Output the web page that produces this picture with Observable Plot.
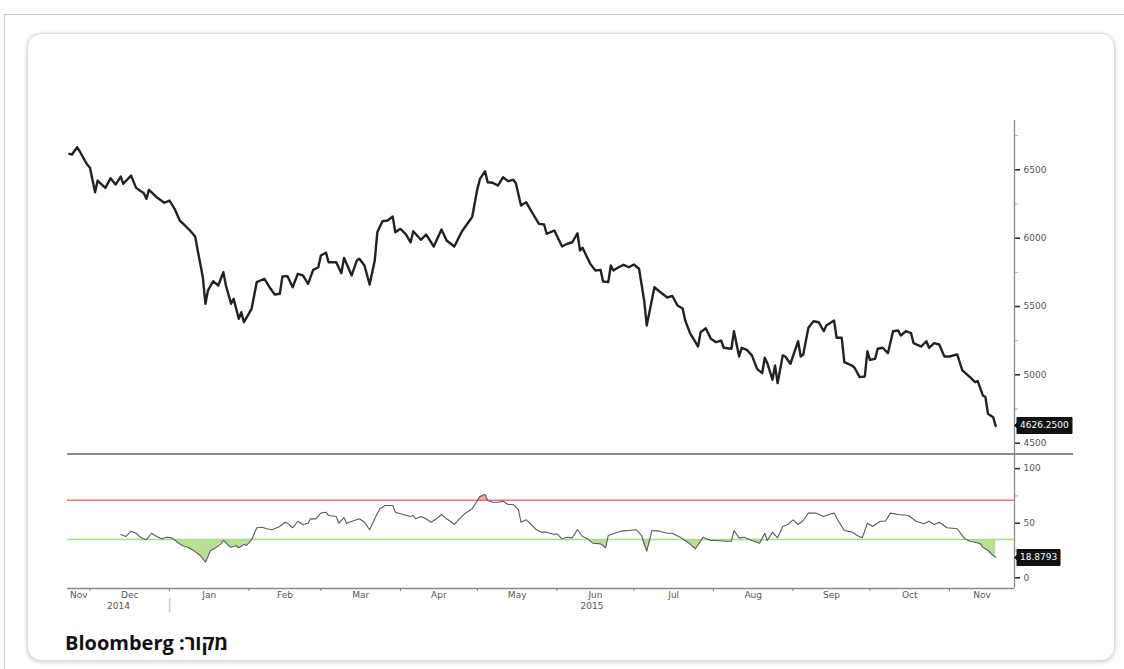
<!DOCTYPE html>
<html><head><meta charset="utf-8">
<script src="https://cdn.jsdelivr.net/npm/d3@7"></script>
<script src="https://cdn.jsdelivr.net/npm/@observablehq/plot@0.6"></script>
<style>
html,body{margin:0;padding:0;background:#fff;width:1124px;height:669px;overflow:hidden;position:relative;font-family:"DejaVu Sans",sans-serif;}
#frame{position:absolute;left:4px;top:14px;right:-2px;bottom:-2px;border-top:1px solid #c4c4c4;border-left:1px solid #cfcfcf;}
#card{position:absolute;left:27px;top:33px;width:1086px;height:626px;border:1px solid #dcdcdc;border-radius:14px;box-shadow:0 1px 4px rgba(0,0,0,0.22);background:#fff;}
#top,#bottom{position:absolute;left:0;}
#top{top:100px;}
#bottom{top:454px;}
#sep{position:absolute;left:67px;top:453px;width:1006px;height:2px;background:#8a8a8a;}
#caption{position:absolute;left:65px;top:630px;font-family:"Open Sans","DejaVu Sans",sans-serif;font-weight:700;font-size:20px;line-height:26px;direction:rtl;color:#111;}
g[aria-label="tip"] text{fill:#fff;}
</style></head><body>
<div id="frame"></div><div id="card"></div>
<div id="top"></div><div id="bottom"></div><div id="sep"></div>
<div id="caption" dir="rtl">מקור: Bloomberg</div>
<script>
const priceDates = ["2014-11-23","2014-11-24","2014-11-26","2014-11-27","2014-11-29","2014-11-30","2014-12-01","2014-12-03","2014-12-04","2014-12-05","2014-12-07","2014-12-09","2014-12-11","2014-12-13","2014-12-14","2014-12-17","2014-12-19","2014-12-22","2014-12-23","2014-12-24","2014-12-27","2014-12-30","2015-01-01","2015-01-03","2015-01-05","2015-01-07","2015-01-09","2015-01-11","2015-01-12","2015-01-14","2015-01-15","2015-01-16","2015-01-18","2015-01-20","2015-01-22","2015-01-23","2015-01-25","2015-01-26","2015-01-28","2015-01-29","2015-01-30","2015-02-02","2015-02-04","2015-02-07","2015-02-09","2015-02-11","2015-02-13","2015-02-14","2015-02-16","2015-02-18","2015-02-20","2015-02-22","2015-02-24","2015-02-26","2015-02-28","2015-03-01","2015-03-03","2015-03-04","2015-03-07","2015-03-09","2015-03-10","2015-03-13","2015-03-15","2015-03-16","2015-03-18","2015-03-20","2015-03-22","2015-03-23","2015-03-25","2015-03-27","2015-03-29","2015-03-30","2015-04-01","2015-04-03","2015-04-05","2015-04-06","2015-04-09","2015-04-11","2015-04-14","2015-04-17","2015-04-19","2015-04-22","2015-04-25","2015-04-28","2015-04-29","2015-05-01","2015-05-02","2015-05-04","2015-05-05","2015-05-07","2015-05-09","2015-05-11","2015-05-13","2015-05-15","2015-05-16","2015-05-18","2015-05-20","2015-05-23","2015-05-25","2015-05-27","2015-05-28","2015-05-31","2015-06-03","2015-06-05","2015-06-07","2015-06-09","2015-06-10","2015-06-11","2015-06-14","2015-06-16","2015-06-18","2015-06-19","2015-06-21","2015-06-22","2015-06-23","2015-06-25","2015-06-27","2015-06-29","2015-07-01","2015-07-03","2015-07-05","2015-07-06","2015-07-09","2015-07-11","2015-07-14","2015-07-16","2015-07-18","2015-07-20","2015-07-21","2015-07-23","2015-07-24","2015-07-26","2015-07-27","2015-07-29","2015-07-31","2015-08-02","2015-08-04","2015-08-05","2015-08-08","2015-08-09","2015-08-11","2015-08-12","2015-08-14","2015-08-16","2015-08-18","2015-08-20","2015-08-21","2015-08-22","2015-08-24","2015-08-25","2015-08-26","2015-08-28","2015-08-29","2015-08-31","2015-09-03","2015-09-04","2015-09-05","2015-09-07","2015-09-09","2015-09-11","2015-09-13","2015-09-14","2015-09-17","2015-09-18","2015-09-20","2015-09-21","2015-09-24","2015-09-25","2015-09-27","2015-09-29","2015-09-30","2015-10-01","2015-10-03","2015-10-04","2015-10-06","2015-10-08","2015-10-10","2015-10-12","2015-10-13","2015-10-15","2015-10-17","2015-10-18","2015-10-21","2015-10-23","2015-10-24","2015-10-26","2015-10-28","2015-10-30","2015-11-01","2015-11-04","2015-11-06","2015-11-09","2015-11-11","2015-11-12","2015-11-14","2015-11-15","2015-11-16","2015-11-18","2015-11-19"];
const priceValues = [6617,6612,6665,6636,6568,6537,6515,6336,6422,6402,6368,6438,6392,6451,6398,6458,6368,6329,6288,6354,6300,6259,6275,6215,6129,6093,6056,6012,5910,5714,5520,5617,5685,5654,5751,5654,5520,5556,5410,5458,5385,5483,5678,5703,5641,5588,5593,5719,5722,5641,5739,5727,5666,5768,5787,5873,5893,5824,5824,5744,5856,5727,5836,5849,5800,5661,5836,6043,6124,6129,6158,6043,6068,6032,5970,6051,5988,6027,5939,6063,5983,5939,6051,6129,6158,6361,6434,6490,6409,6405,6385,6446,6417,6427,6402,6239,6263,6166,6105,6100,6032,6056,5939,5959,5970,6036,5910,5929,5812,5763,5768,5683,5678,5800,5763,5787,5805,5787,5807,5776,5544,5361,5641,5610,5566,5577,5507,5485,5398,5300,5271,5207,5312,5341,5264,5239,5251,5198,5191,5319,5134,5198,5183,5142,5044,5012,5125,5085,4964,5068,4939,5142,5134,5081,5246,5134,5149,5344,5392,5385,5319,5361,5398,5271,5271,5093,5068,5052,4983,4988,5173,5110,5117,5191,5198,5158,5319,5324,5288,5319,5305,5232,5207,5246,5198,5232,5222,5134,5134,5149,5032,4983,4946,4954,4849,4837,4715,4690,4626.25];

const rsiDates = ["2014-12-13","2014-12-15","2014-12-17","2014-12-19","2014-12-21","2014-12-23","2014-12-25","2014-12-27","2014-12-29","2014-12-31","2015-01-02","2015-01-04","2015-01-06","2015-01-08","2015-01-10","2015-01-13","2015-01-15","2015-01-17","2015-01-19","2015-01-21","2015-01-22","2015-01-24","2015-01-25","2015-01-27","2015-01-28","2015-01-30","2015-01-31","2015-02-02","2015-02-04","2015-02-06","2015-02-08","2015-02-10","2015-02-13","2015-02-15","2015-02-16","2015-02-18","2015-02-20","2015-02-22","2015-02-24","2015-02-25","2015-02-27","2015-03-01","2015-03-03","2015-03-04","2015-03-07","2015-03-08","2015-03-10","2015-03-11","2015-03-14","2015-03-16","2015-03-18","2015-03-20","2015-03-22","2015-03-24","2015-03-26","2015-03-29","2015-03-30","2015-04-02","2015-04-05","2015-04-06","2015-04-07","2015-04-09","2015-04-11","2015-04-13","2015-04-15","2015-04-17","2015-04-19","2015-04-21","2015-04-22","2015-04-24","2015-04-26","2015-04-29","2015-05-01","2015-05-02","2015-05-04","2015-05-05","2015-05-07","2015-05-09","2015-05-11","2015-05-13","2015-05-15","2015-05-17","2015-05-18","2015-05-20","2015-05-22","2015-05-24","2015-05-26","2015-05-28","2015-05-31","2015-06-01","2015-06-03","2015-06-05","2015-06-07","2015-06-09","2015-06-11","2015-06-13","2015-06-15","2015-06-18","2015-06-20","2015-06-21","2015-06-23","2015-06-26","2015-06-29","2015-07-02","2015-07-04","2015-07-06","2015-07-08","2015-07-11","2015-07-14","2015-07-16","2015-07-19","2015-07-22","2015-07-25","2015-07-28","2015-07-31","2015-08-02","2015-08-06","2015-08-08","2015-08-09","2015-08-11","2015-08-13","2015-08-16","2015-08-19","2015-08-21","2015-08-22","2015-08-24","2015-08-26","2015-08-28","2015-08-30","2015-09-01","2015-09-03","2015-09-05","2015-09-07","2015-09-10","2015-09-13","2015-09-15","2015-09-17","2015-09-19","2015-09-21","2015-09-24","2015-09-26","2015-09-28","2015-09-30","2015-10-02","2015-10-05","2015-10-07","2015-10-09","2015-10-12","2015-10-16","2015-10-19","2015-10-22","2015-10-24","2015-10-26","2015-10-28","2015-10-31","2015-11-04","2015-11-05","2015-11-07","2015-11-09","2015-11-11","2015-11-13","2015-11-14","2015-11-16","2015-11-18","2015-11-19"];
const rsiValues = [39.7,37.8,42.7,40.8,36.6,34.8,40.8,37.8,35.7,37.2,36.6,32.6,29.6,28,25.6,20.4,14.3,25,27.5,31.1,34.2,29.6,28,29.6,27.5,30.5,29.6,34.8,45.8,46.3,44.9,44,47,50.9,50,45.8,51.8,48.8,50,54,54,59.2,60.1,57,56.1,50,55,50,52.5,54,50.9,44,54,63.2,66.2,66.2,60.1,58,56.1,57,54,56.1,54,50.9,54,58,54,50.9,48.8,54,58.6,63.2,70.8,74.5,76.3,70.8,69.2,69.2,70.1,67.1,67.1,62.3,50.9,53.1,48.8,44,41.8,41.8,39.7,40.3,35.7,37.2,36.6,44.2,37.8,35.7,31.7,31.1,27.5,38.7,40.3,42.7,43.3,44,38.7,24.4,43.3,42.7,40.8,40.8,37.2,32.6,26.6,37.2,34.2,34.2,33.5,33.5,43.3,36.6,37.2,34.2,31.7,40.8,34.2,41.8,36.6,47,48.8,53.1,48.8,52.5,59.2,59.2,56.1,58,59.2,50.9,43.3,41.8,38.7,36.6,50,47,51.8,51.8,59.2,58,57,51.8,49.5,51.8,48.8,50.9,45.8,44.9,41.8,35.7,33.5,32.6,31.1,28,25,20.4,18.8793];

const priceTicks = [4500, 5000, 5500, 6000, 6500];
const priceMinorTicks = [4750, 5250, 5750, 6250, 6750];
const rsiTicks = [0, 50, 100];
const rsiMinorTicks = [25, 75];
const monthLabels = ["Nov","Dec","Jan","Feb","Mar","Apr","May","Jun","Jul","Aug","Sep","Oct","Nov"];
const yearLabels = ["2014","2015"];
const OVERBOUGHT = 71;
const OVERSOLD = 35;

const X_DOMAIN = [new Date("2014-11-22T06:00Z"), new Date("2015-11-26T08:00Z")];
const PRICE_DOMAIN = [4417, 6861];
const RSI_DOMAIN = [-9.8, 112];

const price = priceDates.map((d, i) => ({date: new Date(d), value: priceValues[i]}));
const rsi = rsiDates.map((d, i) => ({date: new Date(d), value: rsiValues[i]}));

// month / year label anchors: centre of each visible month / year span
const clampSpan = (a, b) => [a < X_DOMAIN[0] ? X_DOMAIN[0] : a, b > X_DOMAIN[1] ? X_DOMAIN[1] : b];
const monthStarts = d3.utcMonth.range(d3.utcMonth.ceil(X_DOMAIN[0]), X_DOMAIN[1]);
const monthMids = d3.utcMonth.range(d3.utcMonth.floor(X_DOMAIN[0]), X_DOMAIN[1]).map(m => {
  const [a, b] = clampSpan(m, d3.utcMonth.offset(m, 1));
  return new Date((+a + +b) / 2);
});
const yearStarts = d3.utcYear.range(d3.utcYear.ceil(X_DOMAIN[0]), X_DOMAIN[1]);
const yearMids = d3.utcYear.range(d3.utcYear.floor(X_DOMAIN[0]), X_DOMAIN[1]).map(y => {
  const [a, b] = clampSpan(y, d3.utcYear.offset(y, 1));
  return new Date((+a + +b) / 2);
});

const axisFont = {fontFamily: "DejaVu Sans, sans-serif", fontSize: "9px", color: "#555", background: "transparent", overflow: "visible"};
const fmt = d3.format("d");

const topChart = Plot.plot({
  width: 1124, height: 355,
  marginLeft: 67, marginRight: 110, marginTop: 20, marginBottom: 1,
  x: {type: "utc", domain: X_DOMAIN, axis: null},
  y: {domain: PRICE_DOMAIN, axis: null, label: null},
  style: axisFont,
  marks: [
    Plot.ruleX([X_DOMAIN[1]], {stroke: "#8a8a8a", strokeWidth: 1.3}),
    Plot.axisY(priceMinorTicks, {anchor: "right", tickSize: 3, tickFormat: () => "", stroke: "#aaa", label: null}),
    Plot.axisY(priceTicks, {anchor: "right", tickSize: 5, tickPadding: 4, tickFormat: fmt, stroke: "#333", strokeWidth: 1.6, fill: "#555", label: null}),
    Plot.line(price, {x: "date", y: "value", stroke: "#222", strokeWidth: 2.4, strokeLinejoin: "round"}),
    Plot.tip([price[price.length - 1]], {
      y: "value", frameAnchor: "right", anchor: "left",
      title: d => d.value.toFixed(4),
      fill: "#111", stroke: "#111", pointerSize: 5, textPadding: 3, fontSize: 9, pathFilter: "none"
    })
  ]
});
document.getElementById("top").append(topChart);

const bottomChart = Plot.plot({
  width: 1124, height: 170,
  marginLeft: 67, marginRight: 110, marginTop: 1, marginBottom: 36,
  x: {type: "utc", domain: X_DOMAIN, axis: null},
  y: {domain: RSI_DOMAIN, axis: null, label: null},
  style: axisFont,
  marks: [
    Plot.areaY(rsi, {x: "date", y1: OVERSOLD, y2: d => Math.min(d.value, OVERSOLD), fill: "#b9df97"}),
    Plot.areaY(rsi, {x: "date", y1: OVERBOUGHT, y2: d => Math.max(d.value, OVERBOUGHT), fill: "#f4a7a7"}),
    Plot.ruleY([OVERBOUGHT], {stroke: "#f07777", strokeWidth: 1.5}),
    Plot.ruleY([OVERSOLD], {stroke: "#a3db90", strokeWidth: 1.5}),
    Plot.line(rsi, {x: "date", y: "value", stroke: "#5a5a5a", strokeWidth: 1.1}),
    Plot.ruleY([RSI_DOMAIN[0]], {stroke: "#8a8a8a", strokeWidth: 1.3}),
    Plot.ruleX([X_DOMAIN[1]], {stroke: "#8a8a8a", strokeWidth: 1.3}),
    Plot.axisY(rsiMinorTicks, {anchor: "right", tickSize: 3, tickFormat: () => "", stroke: "#aaa", label: null}),
    Plot.axisY(rsiTicks, {anchor: "right", tickSize: 5, tickPadding: 4, tickFormat: fmt, stroke: "#333", strokeWidth: 1.6, fill: "#555", label: null}),
    Plot.axisX(monthStarts, {tickSize: 3, tickFormat: () => "", stroke: "#777", label: null}),
    Plot.text(monthMids, {x: d => d, text: (d, i) => monthLabels[i], frameAnchor: "bottom", dy: 9, fill: "#555"}),
    Plot.text(yearMids, {x: d => d, text: (d, i) => yearLabels[i], frameAnchor: "bottom", dy: 20, fill: "#555"}),
    Plot.text(yearStarts, {x: d => d, text: () => "|", frameAnchor: "bottom", dy: 20, fill: "#c4c4c4", fontSize: 14}),
    Plot.tip([rsi[rsi.length - 1]], {
      y: "value", frameAnchor: "right", anchor: "left",
      title: d => d.value.toFixed(4),
      fill: "#111", stroke: "#111", pointerSize: 5, textPadding: 3, fontSize: 9, pathFilter: "none"
    })
  ]
});
document.getElementById("bottom").append(bottomChart);
</script>
</body></html>
